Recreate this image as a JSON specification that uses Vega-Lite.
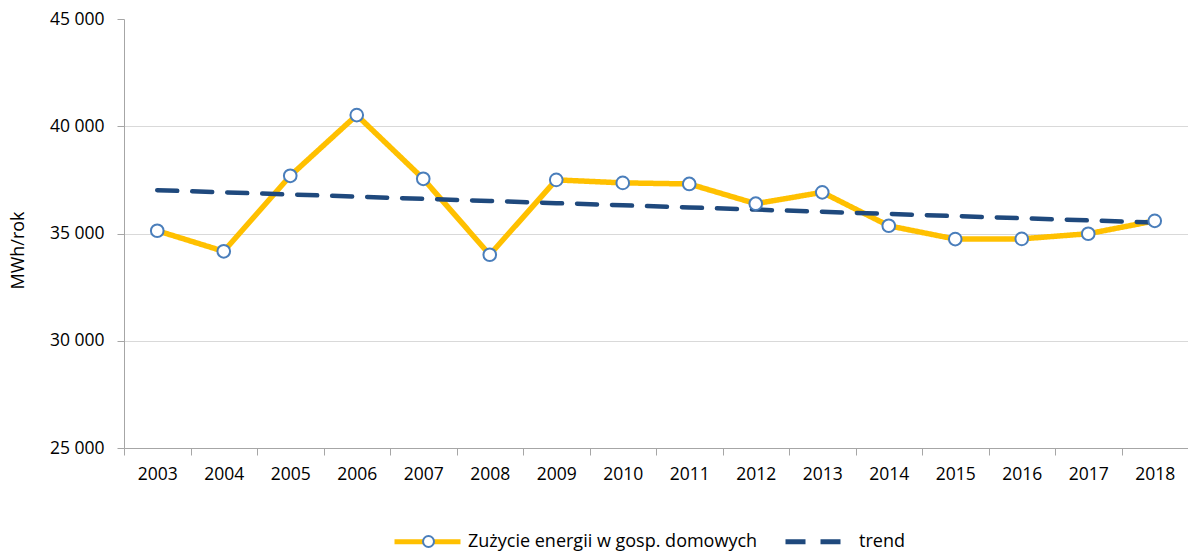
{
  "$schema": "https://vega.github.io/schema/vega-lite/v6.json",
  "width": 1064,
  "height": 429,
  "autosize": {"type": "none"},
  "padding": {"left": 124, "top": 19, "right": 0, "bottom": 104},
  "background": "white",
  "config": {
    "font": "Open Sans",
    "view": {"stroke": null},
    "axis": {"labelFont": "Open Sans", "titleFont": "Open Sans", "labelColor": "#000000", "titleColor": "#000000"},
    "legend": {"labelFont": "Open Sans", "labelColor": "#000000", "labelLimit": 500}
  },
  "data": {
    "values": [
      {"year": "2003", "series": "Zużycie energii w gosp. domowych", "value": 35130},
      {"year": "2004", "series": "Zużycie energii w gosp. domowych", "value": 34170},
      {"year": "2005", "series": "Zużycie energii w gosp. domowych", "value": 37690},
      {"year": "2006", "series": "Zużycie energii w gosp. domowych", "value": 40520},
      {"year": "2007", "series": "Zużycie energii w gosp. domowych", "value": 37550},
      {"year": "2008", "series": "Zużycie energii w gosp. domowych", "value": 34010},
      {"year": "2009", "series": "Zużycie energii w gosp. domowych", "value": 37500},
      {"year": "2010", "series": "Zużycie energii w gosp. domowych", "value": 37360},
      {"year": "2011", "series": "Zużycie energii w gosp. domowych", "value": 37310},
      {"year": "2012", "series": "Zużycie energii w gosp. domowych", "value": 36390},
      {"year": "2013", "series": "Zużycie energii w gosp. domowych", "value": 36920},
      {"year": "2014", "series": "Zużycie energii w gosp. domowych", "value": 35360},
      {"year": "2015", "series": "Zużycie energii w gosp. domowych", "value": 34740},
      {"year": "2016", "series": "Zużycie energii w gosp. domowych", "value": 34750},
      {"year": "2017", "series": "Zużycie energii w gosp. domowych", "value": 34990},
      {"year": "2018", "series": "Zużycie energii w gosp. domowych", "value": 35590},
      {"year": "2003", "series": "trend", "value": 37020},
      {"year": "2004", "series": "trend", "value": 36919},
      {"year": "2005", "series": "trend", "value": 36819},
      {"year": "2006", "series": "trend", "value": 36718},
      {"year": "2007", "series": "trend", "value": 36617},
      {"year": "2008", "series": "trend", "value": 36517},
      {"year": "2009", "series": "trend", "value": 36416},
      {"year": "2010", "series": "trend", "value": 36315},
      {"year": "2011", "series": "trend", "value": 36215},
      {"year": "2012", "series": "trend", "value": 36114},
      {"year": "2013", "series": "trend", "value": 36013},
      {"year": "2014", "series": "trend", "value": 35913},
      {"year": "2015", "series": "trend", "value": 35812},
      {"year": "2016", "series": "trend", "value": 35711},
      {"year": "2017", "series": "trend", "value": 35611},
      {"year": "2018", "series": "trend", "value": 35510}
    ]
  },
  "encoding": {
    "x": {
      "field": "year", "type": "ordinal",
      "scale": {"type": "band", "paddingInner": 0, "paddingOuter": 0},
      "axis": {
        "title": null, "labelAngle": 0, "tickBand": "extent", "grid": false,
        "domainColor": "#A6A6A6", "tickColor": "#A6A6A6", "tickSize": 7,
        "labelFontSize": 17.5, "labelPadding": 10
      }
    },
    "y": {
      "field": "value", "type": "quantitative",
      "scale": {"domain": [25000, 45000], "nice": false, "zero": false},
      "axis": {
        "title": "MWh/rok", "titleFontSize": 18, "titleFontWeight": "normal",
        "titleX": -106, "titleY": 231, "titleAngle": -90, "titleAlign": "center", "titleBaseline": "middle",
        "values": [25000, 30000, 35000, 40000, 45000],
        "labelExpr": "replace(format(datum.value, ','), ',', ' ')",
        "labelFontSize": 17.5, "labelPadding": 13,
        "domainColor": "#A6A6A6", "tickColor": "#A6A6A6", "tickSize": 7,
        "grid": true, "gridColor": "#D9D9D9",
        "gridOpacity": {"condition": {"test": "datum.value >= 45000 || datum.value <= 25000", "value": 0}, "value": 1}
      }
    }
  },
  "layer": [
    {
      "transform": [{"filter": "datum.series !== 'trend'"}],
      "mark": {"type": "line", "strokeWidth": 5.5, "strokeJoin": "round"},
      "encoding": {
        "color": {
          "field": "series", "type": "nominal",
          "scale": {"domain": ["Zużycie energii w gosp. domowych", "trend"], "range": ["#FFC000", "#1F497D"]},
          "legend": {
            "orient": "none", "legendX": 268, "legendY": 487, "direction": "horizontal", "title": null, "zindex": 1,
            "symbolType": "stroke", "symbolSize": 4356, "symbolStrokeWidth": 5,
            "labelFontSize": 18, "labelOffset": 5, "columnPadding": 17, "labelLimit": 500
          }
        },
        "strokeDash": {
          "field": "series", "type": "nominal",
          "scale": {"domain": ["Zużycie energii w gosp. domowych", "trend"], "range": [[1, 0], [20, 15]]},
          "legend": {
            "orient": "none", "legendX": 268, "legendY": 487, "direction": "horizontal", "title": null, "zindex": 1,
            "symbolType": "stroke", "symbolSize": 4356, "symbolStrokeWidth": 5,
            "labelFontSize": 18, "labelOffset": 5, "columnPadding": 17, "labelLimit": 500
          }
        }
      }
    },
    {
      "transform": [{"filter": "datum.series === 'trend'"}],
      "mark": {"type": "line", "strokeWidth": 4.5, "strokeCap": "round"},
      "encoding": {
        "color": {"field": "series", "type": "nominal"},
        "strokeDash": {"field": "series", "type": "nominal"}
      }
    },
    {
      "transform": [{"filter": "datum.series !== 'trend'"}],
      "mark": {"type": "point", "shape": "circle", "filled": false, "fill": "white", "fillOpacity": 1, "strokeWidth": 2, "size": 160, "opacity": 1},
      "encoding": {
        "stroke": {
          "datum": "punkt",
          "scale": {"range": ["#4A7EBB"]},
          "legend": {
            "orient": "none", "legendX": 298, "legendY": 516, "title": null, "zindex": 5,
            "symbolType": "circle", "symbolSize": 120, "symbolFillColor": "white", "symbolStrokeWidth": 2, "symbolOpacity": 1,
            "labelExpr": "''", "labelFontSize": 1
          }
        }
      }
    }
  ]
}
